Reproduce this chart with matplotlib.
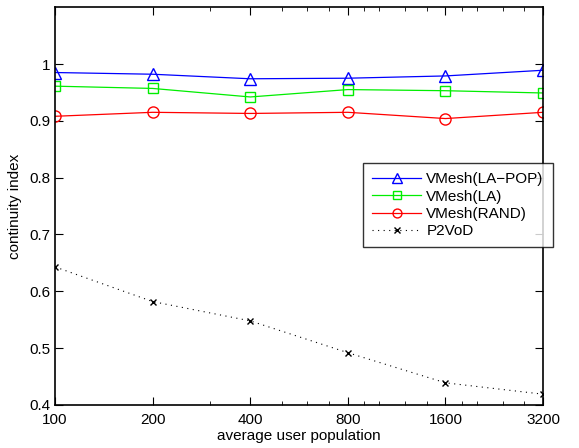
import matplotlib.pyplot as plt
from matplotlib.ticker import FixedLocator, NullFormatter

plt.rcParams['font.family'] = ['Liberation Sans', 'DejaVu Sans']

population = [100, 200, 400, 800, 1600, 3200]
la_pop = [0.985, 0.982, 0.974, 0.975, 0.979, 0.989]
la = [0.961, 0.957, 0.942, 0.955, 0.953, 0.949]
rand = [0.908, 0.915, 0.913, 0.915, 0.904, 0.915]
p2vod = [0.643, 0.582, 0.548, 0.492, 0.439, 0.419]

# minor ticks as drawn in the original
minor_x = [300, 500, 600, 700, 900, 1000, 1200, 1400, 1800, 2000, 2400, 2800]

fig = plt.figure(figsize=(5.79, 4.48), dpi=100)
ax = fig.add_axes([0.095, 0.096, 0.843, 0.888])

ax.plot(population, la_pop, color='blue', marker='^', mfc='none', ms=9, lw=0.9, label='VMesh(LA\u2212POP)')
ax.plot(population, la, color='#00ee00', marker='s', mfc='none', ms=7, lw=0.9, label='VMesh(LA)')
ax.plot(population, rand, color='red', marker='o', mfc='none', ms=8, lw=0.9, label='VMesh(RAND)')
ax.plot(population, p2vod, color='black', marker='x', ms=5, lw=0.8, ls=(0, (1, 4)), label='P2VoD')

ax.set_xscale('log')
ax.set_xlim(100, 3200)
ax.set_ylim(0.4, 1.1)
ax.set_xticks(population)
ax.set_xticklabels([str(p) for p in population])
ax.xaxis.set_minor_locator(FixedLocator(minor_x))
ax.xaxis.set_minor_formatter(NullFormatter())
ax.set_yticks([0.4, 0.5, 0.6, 0.7, 0.8, 0.9, 1.0])
ax.set_yticklabels(['0.4', '0.5', '0.6', '0.7', '0.8', '0.9', '1'])
ax.tick_params(which='both', direction='in', top=True, right=True, labelsize=11)
ax.tick_params(which='major', length=6)
ax.tick_params(which='minor', length=3)
ax.tick_params(axis='x', which='major', pad=6)
for s in ax.spines.values():
    s.set_linewidth(1.2)

ax.set_xlabel('average user population', fontsize=11, labelpad=1)
ax.set_ylabel('continuity index', fontsize=11, labelpad=5)

leg = ax.legend(loc='upper left', bbox_to_anchor=(363 / 579, 285 / 448), bbox_transform=fig.transFigure,
                borderaxespad=0, fontsize=11, frameon=True, fancybox=False, edgecolor='black',
                borderpad=0.6, labelspacing=0.22, handlelength=3.2, handletextpad=0.35, markerscale=0.8)
leg.get_frame().set_linewidth(1.0)
leg.set_zorder(10)

fig.savefig('out.png', dpi=100)
